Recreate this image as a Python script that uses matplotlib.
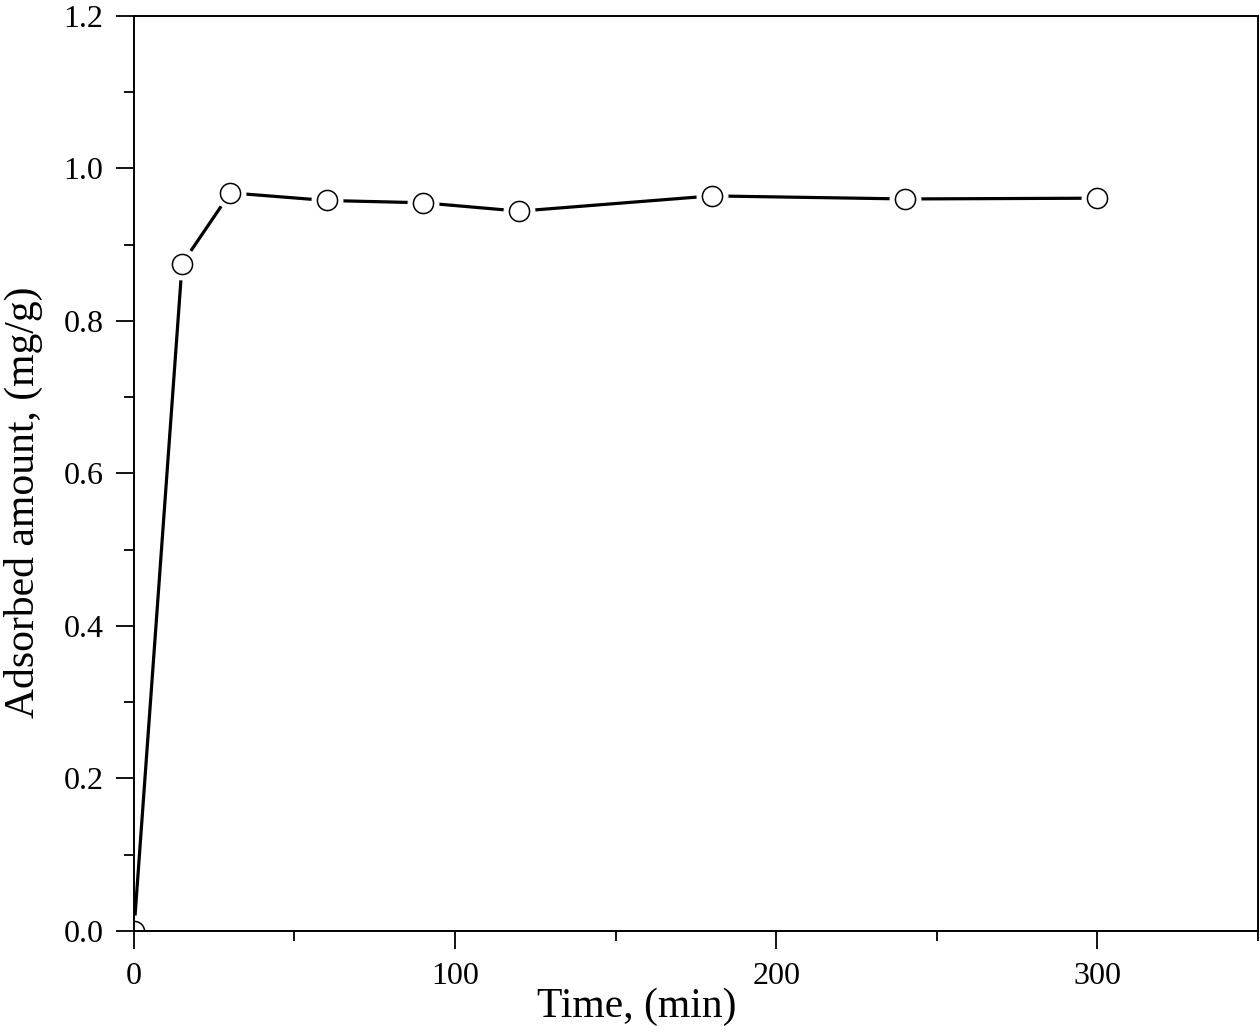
import matplotlib
matplotlib.use('Agg')
import matplotlib.pyplot as plt
from matplotlib.ticker import MultipleLocator, FormatStrFormatter

time_min = [0, 15, 30, 60, 90, 120, 180, 240, 300]
adsorbed = [0.0, 0.875, 0.968, 0.958, 0.955, 0.944, 0.964, 0.960, 0.961]

plt.rcParams['font.family'] = 'Liberation Serif'

fig = plt.figure(figsize=(12.6, 10.36), dpi=100)
ax = fig.add_axes([0.1063, 0.1014, 0.892, 0.8832])

ax.plot(time_min, adsorbed, color='black', linewidth=2.3, zorder=1)
# white halo so the line stops short of each marker
ax.plot(time_min, adsorbed, linestyle='none', marker='o', markersize=22,
        markerfacecolor='white', markeredgecolor='white', zorder=1.5)
ax.plot(time_min, adsorbed, linestyle='none', marker='o', markersize=14.5,
        markerfacecolor='white', markeredgecolor='black', markeredgewidth=1.1,
        zorder=2)

ax.set_xlim(0, 350)
ax.set_ylim(0, 1.2)
ax.xaxis.set_major_locator(MultipleLocator(100))
ax.xaxis.set_minor_locator(MultipleLocator(50))
ax.yaxis.set_major_locator(MultipleLocator(0.2))
ax.yaxis.set_minor_locator(MultipleLocator(0.1))
ax.yaxis.set_major_formatter(FormatStrFormatter('%.1f'))

ax.tick_params(which='major', direction='out', length=13, width=1.3,
               labelsize=23, pad=9)
ax.tick_params(which='minor', direction='out', length=7, width=1.3)
ax.tick_params(top=False, right=False)
for s in ax.spines.values():
    s.set_linewidth(1.4)

ax.set_xlabel('Time, (min)', fontsize=30)
ax.set_ylabel('Adsorbed amount, (mg/g)', fontsize=30)
ax.xaxis.set_label_coords(0.4475, -0.062)
ax.yaxis.set_label_coords(-0.081, 0.469)

plt.savefig('out.png', dpi=100)
